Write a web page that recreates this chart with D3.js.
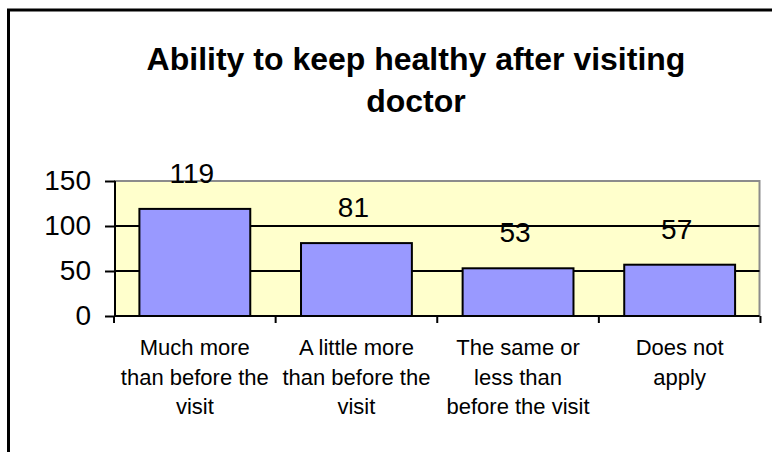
<!DOCTYPE html>
<html>
<head>
<meta charset="utf-8">
<script src="https://cdn.jsdelivr.net/npm/d3@7"></script>
<style>
  body { margin: 0; background: #fff; }
  svg { display: block; font-family: "Liberation Sans", Arial, sans-serif; }
</style>
</head>
<body>
<div id="chart"></div>
<script>
const width = 772;
const height = 452;

const categories = ["much", "little", "same", "na"];
const catLabels = [
  ["Much more", "than before the", "visit"],
  ["A little more", "than before the", "visit"],
  ["The same or", "less than", "before the visit"],
  ["Does not", "apply"]
];
const values = [119, 81, 53, 57];
const yTicks = [0, 50, 100, 150];
const titleLines = ["Ability to keep healthy after visiting", "doctor"];

// plot area
const plotLeft = 115, plotRight = 759.5, plotTop = 181, plotBottom = 316;

const svg = d3.select("#chart")
  .append("svg")
  .attr("width", width)
  .attr("height", height);

// outer chart border (runs off the right and bottom)
svg.append("rect")
  .attr("x", 8.5)
  .attr("y", 10)
  .attr("width", 800)
  .attr("height", 500)
  .attr("fill", "#fff")
  .attr("stroke", "#000")
  .attr("stroke-width", 3);

/* title */
svg.append("g")
  .selectAll("text")
  .data(titleLines)
  .enter()
  .append("text")
  .attr("x", 416)
  .attr("y", (d, i) => 70 + i * 42)
  .attr("text-anchor", "middle")
  .style("font-size", "32px")
  .style("font-weight", "bold")
  .text(d => d);

const xScale = d3.scaleBand()
  .domain(categories)
  .range([plotLeft, plotRight])
  .paddingInner(0.314)
  .paddingOuter(0.151);

const yScale = d3.scaleLinear()
  .domain([0, 150])
  .range([plotBottom, plotTop]);

// plot background
svg.append("rect")
  .attr("x", plotLeft)
  .attr("y", plotTop)
  .attr("width", plotRight - plotLeft)
  .attr("height", plotBottom - plotTop)
  .attr("fill", "#ffffcc")
  .attr("stroke", "#8c8c8c")
  .attr("stroke-width", 2);

// gridlines
svg.append("g")
  .selectAll("line")
  .data(yTicks.filter(t => t > 0 && t < 150))
  .enter()
  .append("line")
  .attr("x1", plotLeft)
  .attr("x2", plotRight)
  .attr("y1", d => yScale(d))
  .attr("y2", d => yScale(d))
  .attr("stroke", "#000")
  .attr("stroke-width", 2);

// bars
svg.append("g")
  .selectAll("rect")
  .data(values)
  .enter()
  .append("rect")
  .attr("x", (d, i) => xScale(categories[i]))
  .attr("y", d => yScale(d))
  .attr("width", xScale.bandwidth())
  .attr("height", d => plotBottom - yScale(d))
  .attr("fill", "#9999ff")
  .attr("stroke", "#000")
  .attr("stroke-width", 2);

// value labels
svg.append("g")
  .selectAll("text")
  .data(values)
  .enter()
  .append("text")
  .attr("x", (d, i) => xScale(categories[i]) + xScale.bandwidth() / 2 - 3)
  .attr("y", d => yScale(d) - 26)
  .attr("text-anchor", "middle")
  .style("font-size", "28px")
  .text(d => d);

// y axis
const yAxis = d3.axisLeft(yScale)
  .tickValues(yTicks)
  .tickSize(10)
  .tickPadding(14);

const gy = svg.append("g")
  .attr("transform", "translate(" + plotLeft + ",0)")
  .call(yAxis);
gy.select(".domain").attr("stroke", "#000").attr("stroke-width", 2)
  .attr("d", "M0," + plotTop + "V" + plotBottom);
gy.selectAll(".tick line").attr("stroke-width", 2);
gy.selectAll(".tick text")
  .style("font-size", "28px")
  .style("font-family", "'Liberation Sans', Arial, sans-serif")
  .attr("fill", "#000");

// x axis line and boundary ticks
const step = xScale.step();
const bounds = categories.map(c => xScale(c) + xScale.bandwidth() / 2 - step / 2)
  .concat([xScale(categories[categories.length - 1]) + xScale.bandwidth() / 2 + step / 2]);

svg.append("line")
  .attr("x1", plotLeft)
  .attr("x2", plotRight)
  .attr("y1", plotBottom)
  .attr("y2", plotBottom)
  .attr("stroke", "#000")
  .attr("stroke-width", 2);

svg.append("g")
  .selectAll("line")
  .data(bounds)
  .enter()
  .append("line")
  .attr("x1", d => d)
  .attr("x2", d => d)
  .attr("y1", plotBottom)
  .attr("y2", plotBottom + 7)
  .attr("stroke", "#000")
  .attr("stroke-width", 2);

// category labels
const catG = svg.append("g")
  .selectAll("text")
  .data(catLabels)
  .enter()
  .append("text")
  .attr("text-anchor", "middle")
  .style("font-size", "22px");

catG.selectAll("tspan")
  .data((d, i) => d.map(line => ({ line: line, i: i })))
  .enter()
  .append("tspan")
  .attr("x", d => xScale(categories[d.i]) + xScale.bandwidth() / 2)
  .attr("y", (d, j) => 355 + j * 29.5)
  .text(d => d.line);
</script>
</body>
</html>
